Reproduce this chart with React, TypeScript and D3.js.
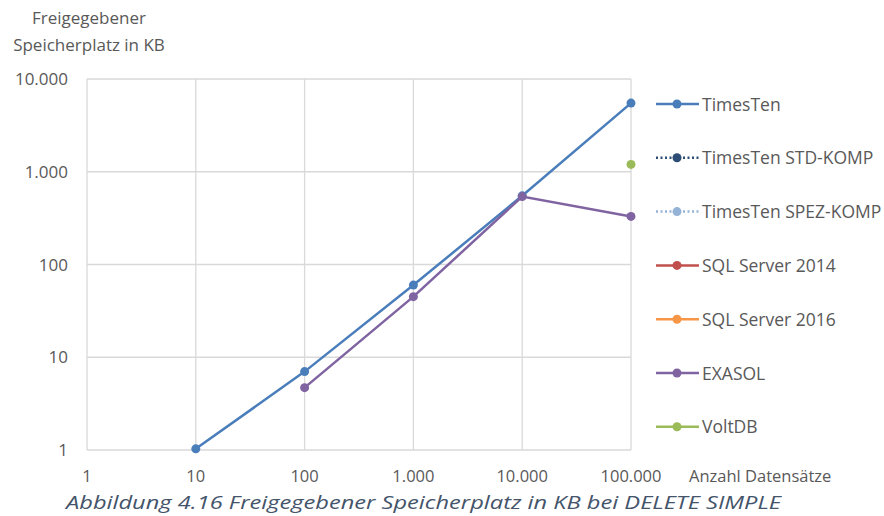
import * as d3 from 'd3'
import React, { useRef, useEffect } from 'react'

// x = Anzahl Datensätze, y = freigegebener Speicher in KB
const xTicks = [1, 10, 100, 1000, 10000, 100000]
const yTicks = [1, 10, 100, 1000, 10000]

const timesTen = [[10, 1.03], [100, 7], [1000, 60], [10000, 550], [100000, 5500]]
const exasol = [[100, 4.7], [1000, 45], [10000, 540], [100000, 330]]
const voltDb = [[100000, 1200]]

const seriesNames = ['TimesTen', 'TimesTen STD-KOMP', 'TimesTen SPEZ-KOMP', 'SQL Server 2014', 'SQL Server 2016', 'EXASOL', 'VoltDB']
const seriesColors = ['#4a7ebb', '#2c4d75', '#95b3d7', '#c0504d', '#f79646', '#8064a2', '#9bbb59']
const seriesDotted = [false, true, true, false, false, false, false]
const seriesData = [timesTen, [], [], [], [], exasol, voltDb]

const fmt = (v: number) => d3.format(',')(v).replace(/,/g, '.')

export default function App() {
    const svgRef = useRef<SVGSVGElement>(null)

    useEffect(() => {
        const w = 884, h = 516
        const svg = d3.select(svgRef.current)
        svg.selectAll('*').remove()
        const font = 'Open Sans, sans-serif'
        const grey = '#595959'

        const x = d3.scaleLog().domain([1, 100000]).range([87, 631])
        const y = d3.scaleLog().domain([1, 10000]).range([450, 79])

        // gridlines
        svg.append('g').selectAll('line').data(xTicks).join('line')
            .attr('x1', d => x(d)).attr('x2', d => x(d))
            .attr('y1', y(10000)).attr('y2', y(1))
            .attr('stroke', '#d9d9d9').attr('stroke-width', 1.3)
        svg.append('g').selectAll('line').data(yTicks).join('line')
            .attr('x1', x(1)).attr('x2', x(100000))
            .attr('y1', d => y(d)).attr('y2', d => y(d))
            .attr('stroke', '#d9d9d9').attr('stroke-width', 1.3)

        // tick labels
        svg.append('g').selectAll('text').data(yTicks).join('text')
            .attr('x', 68).attr('y', d => y(d) + 6)
            .attr('text-anchor', 'end')
            .style('font-family', font).style('font-size', '17px').attr('fill', grey)
            .text(d => fmt(d))
        svg.append('g').selectAll('text').data(xTicks).join('text')
            .attr('x', d => x(d)).attr('y', 482)
            .attr('text-anchor', 'middle')
            .style('font-family', font).style('font-size', '16.5px').attr('fill', grey)
            .text(d => fmt(d))

        svg.append('text').attr('x', 689).attr('y', 482)
            .style('font-family', font).style('font-size', '16.5px').attr('fill', grey)
            .text('Anzahl Datensätze')
        svg.append('text').attr('x', 89).attr('y', 24).attr('text-anchor', 'middle')
            .style('font-family', font).style('font-size', '17px').attr('fill', grey)
            .text('Freigegebener')
        svg.append('text').attr('x', 89).attr('y', 51).attr('text-anchor', 'middle')
            .style('font-family', font).style('font-size', '17px').attr('fill', grey)
            .text('Speicherplatz in KB')

        // series
        const line = d3.line<number[]>().x(d => x(d[0])).y(d => y(d[1]))
        seriesData.forEach((data, i) => {
            const g = svg.append('g')
            g.append('path').datum(data).attr('d', line)
                .attr('fill', 'none').attr('stroke', seriesColors[i]).attr('stroke-width', 2.5)
            g.selectAll('circle').data(data).join('circle')
                .attr('cx', d => x(d[0])).attr('cy', d => y(d[1])).attr('r', 4.5)
                .attr('fill', seriesColors[i])
        })

        // legend
        const leg = svg.append('g').selectAll('g').data(seriesNames).join('g')
            .attr('transform', (d, i) => `translate(0,${104 + i * 53.8})`)
        leg.append('line').attr('x1', 656).attr('x2', 699).attr('y1', 0).attr('y2', 0)
            .attr('stroke', (d, i) => seriesColors[i]).attr('stroke-width', 2.5)
            .attr('stroke-dasharray', (d, i) => seriesDotted[i] ? '2,2.5' : null)
        leg.append('circle').attr('cx', 677).attr('cy', 0).attr('r', 4.5)
            .attr('fill', (d, i) => seriesColors[i])
        leg.append('text').attr('x', 702).attr('y', 6.5)
            .style('font-family', font).style('font-size', '17.5px').attr('fill', grey)
            .text(d => d)

        // caption
        svg.append('text').attr('x', 66).attr('y', 509)
            .attr('textLength', 715).attr('lengthAdjust', 'spacingAndGlyphs')
            .style('font-family', font).style('font-size', '19px').style('font-style', 'italic')
            .attr('fill', '#44546a')
            .text('Abbildung 4.16 Freigegebener Speicherplatz in KB bei DELETE SIMPLE')

        svg.attr('width', w).attr('height', h)
    }, [])

    return (
        <svg ref={svgRef} style={{ position: 'absolute', left: 0, top: 0, background: '#fff' }}></svg>
    )
}
